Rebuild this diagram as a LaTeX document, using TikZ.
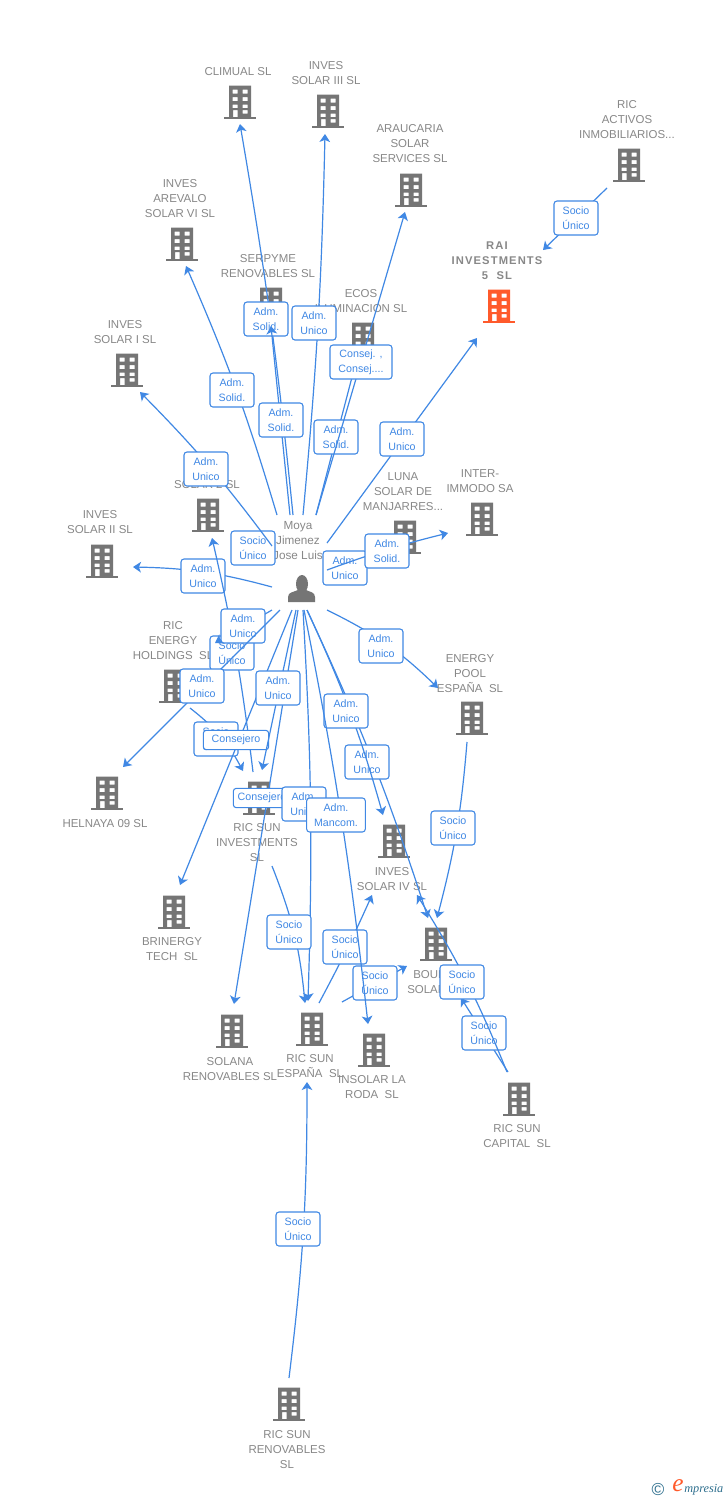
\documentclass[tikz,border=0pt]{standalone}
\usepackage{fontspec}
\usetikzlibrary{arrows.meta}
\setmainfont{Liberation Sans}
\newfontfamily\raifont[LetterSpace=10]{Liberation Sans}
\newfontfamily\logofont{Liberation Serif}
\definecolor{blu}{HTML}{4088E4}
\definecolor{gry}{HTML}{888888}
\definecolor{ico}{HTML}{757575}
\definecolor{org}{HTML}{FF5A2B}
\definecolor{teal}{HTML}{2E6F8E}
\tikzset{
  conn/.style={draw=blu,line width=0.9pt,-{Stealth[length=6pt,width=8pt,inset=1.6pt]}},
  lab/.style={draw=blu,line width=0.8pt,fill=white,rounded corners=2.2pt,text=blu,align=center,
    inner sep=0pt,minimum width=33pt,minimum height=25.5pt,
    font=\fontsize{8}{11.25}\selectfont},
  ent/.style={text=gry,align=center,inner sep=0pt,yshift=-0.6pt,font=\fontsize{8.6}{11.25}\selectfont},
  bl/.style={minimum width=24pt,minimum height=25pt,inner sep=0pt},
}
% building icon: name, x, y, colour
\newcommand{\bldg}[4]{%
  \node[bl] (#1) at (#2,#3) {};
  \fill[#4,even odd rule,shift={(#2,#3)}]
    (-11,-16.5) rectangle (11,15)
    (-7.5,-12.5) rectangle (-2.5,-8.5) (2.5,-12.5) rectangle (7.5,-8.5)
    (-7.5,-5) rectangle (-2.5,-1) (2.5,-5) rectangle (7.5,-1)
    (-7.5,2.5) rectangle (-2.5,6) (2.5,2.5) rectangle (7.5,6)
    (-7,8) rectangle (-2.5,15) (2.5,8) rectangle (7.5,11.5);
  \fill[#4,shift={(#2,#3)}] (-16,14.5) rectangle (16,16.5);
}
% connector: src, src offset, tgt, tgt offset, signed bend
\newcommand{\lnk}[5]{%
  \draw[conn] ([shift={(#2)}]#1.center) to[bend left=#5] ([shift={(#4)}]#3.center);
}
\begin{document}
\begin{tikzpicture}[x=0.75pt,y=-0.75pt]
\useasboundingbox (0,0) rectangle (728,1500);
\fill[white] (0,0) rectangle (728,1500);

% buildings
\bldg{climual}{240}{102}{ico}
\bldg{solar3}{328}{111}{ico}
\bldg{araucaria}{411}{190}{ico}
\bldg{activos}{629}{165}{ico}
\bldg{rai}{499}{306}{org}
\bldg{arevalo}{182}{244}{ico}
\bldg{serpyme}{271}{304}{ico}
\bldg{ecos}{363}{339}{ico}
\bldg{solar1}{127}{370}{ico}
\bldg{luna}{405}{537}{ico}
\bldg{inter}{482}{519}{ico}
\bldg{solar2b}{102}{561}{ico}
\bldg{solarz}{208}{515}{ico}
\bldg{holdings}{175}{686}{ico}
\bldg{pool}{472}{718}{ico}
\bldg{helnaya}{107}{793}{ico}
\bldg{sinv}{259}{798}{ico}
\bldg{solar4}{394}{841}{ico}
\bldg{brinergy}{174}{912}{ico}
\bldg{boud}{436}{944}{ico}
\bldg{solana}{232}{1031}{ico}
\bldg{espana}{312}{1029}{ico}
\bldg{insolar}{374}{1050}{ico}
\bldg{capital}{519}{1099}{ico}
\bldg{renov}{289}{1404}{ico}

% person
\node[minimum size=21pt,inner sep=0pt] (moya) at (302,588) {};
\fill[ico] (302,584) ellipse (6 and 9);
\fill[ico] (288,602) -- (288,597) .. controls (288,592) and (294,592) .. (298,590) -- (306,590)
  .. controls (310,592) and (315,592) .. (315,597) -- (315,602) -- cycle;

% entity labels
\node[ent] (tclimual) at (238,71) {CLIMUAL SL};
\node[ent] (tsolar3) at (326,72.5) {INVES\\SOLAR III SL};
\node[ent] (taraucaria) at (410,143) {ARAUCARIA\\SOLAR\\SERVICES SL};
\node[ent] (tactivos) at (627,119) {RIC\\ACTIVOS\\INMOBILIARIOS...};
\node[ent,font=\fontsize{8.4}{11.25}\raifont\bfseries] (trai) at (497,260) {RAI\\INVESTMENTS\\5~~SL};
\node[ent] (tarevalo) at (180,198) {INVES\\AREVALO\\SOLAR VI SL};
\node[ent] (tserpyme) at (268,265.5) {SERPYME\\RENOVABLES SL};
\node[ent] (tecos) at (361,300.5) {ECOS\\ILUMINACION SL};
\node[ent] (tsolar1) at (125,331.5) {INVES\\SOLAR I SL};
\node[ent] (tluna) at (403,491) {LUNA\\SOLAR DE\\MANJARRES...};
\node[ent] (tinter) at (480,480.5) {INTER-\\IMMODO SA};
\node[ent] (tsolar2b) at (100,521.5) {INVES\\SOLAR II SL};
\node[ent] (tsolarz) at (207,484) {SOLAR 2 SL};
\node[ent,font=\fontsize{8.8}{11.25}\selectfont] (tmoya) at (298,540) {Moya\\Jimenez\\Jose Luis};
\node[ent] (tholdings) at (173,640) {RIC\\ENERGY\\HOLDINGS~~SL};
\node[ent] (tpool) at (470,673) {ENERGY\\POOL\\ESPAÑA~~SL};
\node[ent] (thelnaya) at (105,823) {HELNAYA 09 SL};
\node[ent] (tsinv) at (257,842) {RIC SUN\\INVESTMENTS\\SL};
\node[ent] (tsolar4) at (392,878.5) {INVES\\SOLAR IV SL};
\node[ent] (tbrinergy) at (172,948.5) {BRINERGY\\TECH~~SL};
\node[ent,anchor=west] (tboud1) at (413,974) {BOUD};
\node[ent,anchor=west] (tboud2) at (407,989) {SOLAR};
\node[ent] (tsolana) at (230,1068.5) {SOLANA\\RENOVABLES SL};
\node[ent] (tespana) at (310,1065.5) {RIC SUN\\ESPAÑA~~SL};
\node[ent] (tinsolar) at (372,1086.5) {INSOLAR LA\\RODA~~SL};
\node[ent] (tcapital) at (517,1135.5) {RIC SUN\\CAPITAL~~SL};
\node[ent] (trenov) at (287,1449) {RIC SUN\\RENOVABLES\\SL};

% connectors with their labels, in stacking order
\lnk{activos}{-22,23}{rai}{44,-56}{0}
\node[lab] (l01) at (576,218) {Socio\\Único};

\lnk{moya}{-25,-73}{arevalo}{4,22}{-3.5}
\node[lab] (l02) at (232,390) {Adm.\\Solid.};
\lnk{moya}{-9,-73}{climual}{0,22}{-2}
\node[lab] (l03) at (266,319) {Adm.\\Solid.};
\lnk{moya}{1,-73}{solar3}{-3,23}{-2}
\node[lab] (l04) at (314,323) {Adm.\\Unico};
\lnk{moya}{-12,-73}{serpyme}{0,22}{0}
\node[lab] (l05) at (281,420) {Adm.\\Solid.};
\lnk{moya}{14,-73}{ecos}{-6,19}{0}
\node[lab] (l07) at (336,437) {Adm.\\Solid.};
\lnk{moya}{14,-73}{araucaria}{-6,22}{0}
\node[lab,minimum width=46.5pt] (l06) at (361,362) {Consej. ,\\Consej....};
\lnk{moya}{25,-45}{rai}{-22,32}{0}
\node[lab] (l08) at (402,439) {Adm.\\Unico};
\node[lab] (l09) at (253,548) {Socio\\Único};
\lnk{moya}{-30,-42}{solar1}{13,22}{-4}
\node[lab] (l10) at (206,469) {Adm.\\Unico};
\lnk{moya}{25,-18}{luna}{-42,29}{0}
\node[lab] (l11) at (345,568) {Adm.\\Unico};
\lnk{moya}{25,-18}{inter}{-34,14}{3}
\node[lab] (l12) at (387,551) {Adm.\\Solid.};
\lnk{moya}{-30,-1}{solar2b}{31,6}{-7}
\node[lab] (l13) at (203,576) {Adm.\\Unico};
\lnk{sinv}{-6,-26}{solarz}{4,23}{-3}
\node[lab] (l14) at (232,653) {Socio\\Único};
\lnk{moya}{-30,22}{holdings}{40,-43}{0}
\node[lab] (l15) at (243,626) {Adm.\\Unico};
\lnk{moya}{-22,22}{helnaya}{16,-26}{0}
\node[lab] (l16) at (202,686) {Adm.\\Unico};
\lnk{holdings}{15,22}{sinv}{-16,-27}{12}
\node[lab] (l17) at (216,739) {Socio\\Único};
\lnk{moya}{-10,22}{brinergy}{6,-27}{0}
\node[lab,minimum width=49pt,minimum height=14.5pt] (l18) at (236,740) {Consejero};
\lnk{moya}{-4,22}{solana}{2,-27}{0}
\node[lab,minimum width=43pt,minimum height=14.5pt] (l20) at (262,798) {Consejero};
\lnk{moya}{-6,22}{sinv}{3,-28}{0}
\node[lab] (l19) at (278,688) {Adm.\\Unico};
\lnk{moya}{1,22}{espana}{-4,-28}{2.5}
\node[lab] (l21) at (304,804) {Adm.\\Unico};
\lnk{moya}{25,22}{pool}{-34,-30}{9}
\node[lab] (l22) at (381,646) {Adm.\\Unico};
\lnk{moya}{5,22}{boud}{-8,-26}{3.5}
\node[lab] (l24) at (367,762) {Adm.\\Unico};
\lnk{moya}{5,22}{solar4}{-11,-26}{4.5}
\node[lab] (l23) at (346,711) {Adm.\\Unico};
\lnk{pool}{-5,24}{boud}{1,-26}{5}
\node[lab] (l25) at (453,828) {Socio\\Único};
\lnk{sinv}{13,68}{espana}{-7,-26}{8}
\node[lab] (l26) at (289,932) {Socio\\Único};
\lnk{espana}{7,-26}{solar4}{-22,54}{-2}
\node[lab] (l27) at (345,947) {Socio\\Único};
\lnk{espana}{30,-27}{boud}{-29,22}{0}
\node[lab] (l28) at (375,983) {Socio\\Único};
\lnk{moya}{2,22}{insolar}{-6,-26}{2.4}
\node[lab,minimum width=44pt] (l29) at (336,815) {Adm.\\Mancom.};
\lnk{capital}{-11,-27}{boud}{25,54}{0}
\node[lab] (l30) at (484,1033) {Socio\\Único};
\lnk{capital}{-12,-27}{solar4}{23,54}{-5}
\node[lab] (l31) at (462,982) {Socio\\Único};
\lnk{renov}{0,-26}{espana}{-5,53}{-3.5}
\node[lab] (l32) at (298,1229) {Socio\\Único};

% logo
\node[text=teal,inner sep=0pt,font=\fontsize{13}{13}\selectfont] (lc) at (658,1489) {©};
\node[text=org,inner sep=0pt,font=\fontsize{19}{19}\logofont\itshape] (le) at (678,1486) {e};
\node[text=teal,anchor=west,inner sep=0pt,font=\fontsize{9.2}{9.2}\logofont\itshape] (lm) at (684,1490) {mpresia};
\end{tikzpicture}
\end{document}
